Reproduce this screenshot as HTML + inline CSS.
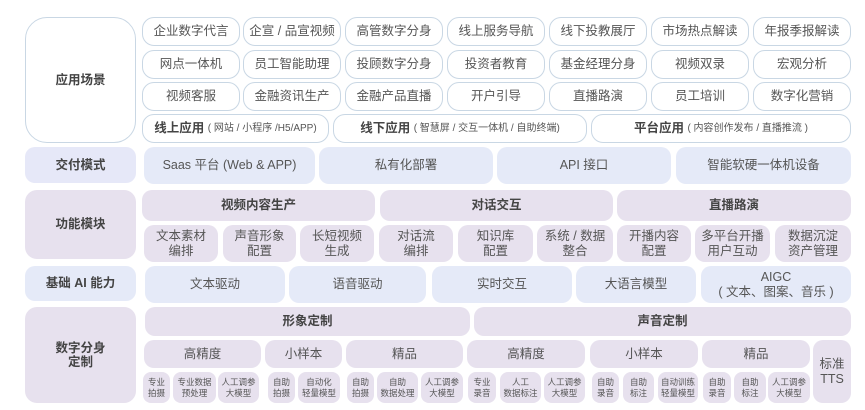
<!DOCTYPE html>
<html><head><meta charset="utf-8"><style>
body{margin:0;width:865px;height:410px;background:#fff;position:relative;overflow:hidden;font-family:"Liberation Sans","Noto Sans CJK SC",sans-serif;color:#555}
.b{position:absolute;box-sizing:border-box;display:flex;align-items:center;justify-content:center;text-align:center;line-height:1.15}
.w{background:#fff;border:1px solid #c9d7e4;border-radius:12px;font-size:12.5px}
.p{background:#e7e1ee}
.l{background:#e5eaf8}
.h{font-weight:bold;color:#444;font-size:12.5px}
.s{font-size:8.5px;line-height:1.25;border-radius:8px}
.m{font-size:12.5px;border-radius:10px}
small{font-weight:normal;font-size:10px;color:#555}
</style></head><body>
<div class="b w h" style="left:25px;top:17px;width:111px;height:126px;border-radius:22px">应用场景</div>
<div class="b p h" style="left:25px;top:147px;width:111px;height:36px;border-radius:10px;background:#e6e8f8">交付模式</div>
<div class="b p h" style="left:25px;top:190px;width:111px;height:69px;border-radius:12px">功能模块</div>
<div class="b l h" style="left:25px;top:266px;width:111px;height:35px;border-radius:10px">基础 AI 能力</div>
<div class="b p h" style="left:25px;top:307px;width:111px;height:96px;border-radius:12px">数字分身<br>定制</div>

<div class="b w" style="left:142px;top:17px;width:98px;height:29px">企业数字代言</div>
<div class="b w" style="left:243px;top:17px;width:98px;height:29px">企宣 / 品宣视频</div>
<div class="b w" style="left:345px;top:17px;width:98px;height:29px">高管数字分身</div>
<div class="b w" style="left:447px;top:17px;width:98px;height:29px">线上服务导航</div>
<div class="b w" style="left:549px;top:17px;width:98px;height:29px">线下投教展厅</div>
<div class="b w" style="left:651px;top:17px;width:98px;height:29px">市场热点解读</div>
<div class="b w" style="left:753px;top:17px;width:98px;height:29px">年报季报解读</div>

<div class="b w" style="left:142px;top:50px;width:98px;height:29px">网点一体机</div>
<div class="b w" style="left:243px;top:50px;width:98px;height:29px">员工智能助理</div>
<div class="b w" style="left:345px;top:50px;width:98px;height:29px">投顾数字分身</div>
<div class="b w" style="left:447px;top:50px;width:98px;height:29px">投资者教育</div>
<div class="b w" style="left:549px;top:50px;width:98px;height:29px">基金经理分身</div>
<div class="b w" style="left:651px;top:50px;width:98px;height:29px">视频双录</div>
<div class="b w" style="left:753px;top:50px;width:98px;height:29px">宏观分析</div>

<div class="b w" style="left:142px;top:82px;width:98px;height:29px">视频客服</div>
<div class="b w" style="left:243px;top:82px;width:98px;height:29px">金融资讯生产</div>
<div class="b w" style="left:345px;top:82px;width:98px;height:29px">金融产品直播</div>
<div class="b w" style="left:447px;top:82px;width:98px;height:29px">开户引导</div>
<div class="b w" style="left:549px;top:82px;width:98px;height:29px">直播路演</div>
<div class="b w" style="left:651px;top:82px;width:98px;height:29px">员工培训</div>
<div class="b w" style="left:753px;top:82px;width:98px;height:29px">数字化营销</div>

<div class="b w h" style="left:142px;top:114px;width:187px;height:29px">线上应用&nbsp;<small>( 网站 / 小程序 /H5/APP)</small></div>
<div class="b w h" style="left:333px;top:114px;width:254px;height:29px">线下应用&nbsp;<small>( 智慧屏 / 交互一体机 / 自助终端)</small></div>
<div class="b w h" style="left:591px;top:114px;width:260px;height:29px">平台应用&nbsp;<small>( 内容创作发布 / 直播推流 )</small></div>

<div class="b l m" style="left:144px;top:147px;width:171px;height:37px">Saas 平台 (Web &amp; APP)</div>
<div class="b l m" style="left:319px;top:147px;width:174px;height:37px">私有化部署</div>
<div class="b l m" style="left:497px;top:147px;width:174px;height:37px">API 接口</div>
<div class="b l m" style="left:676px;top:147px;width:175px;height:37px">智能软硬一体机设备</div>

<div class="b p h m" style="left:142px;top:190px;width:233px;height:31px">视频内容生产</div>
<div class="b p h m" style="left:380px;top:190px;width:233px;height:31px">对话交互</div>
<div class="b p h m" style="left:617px;top:190px;width:234px;height:31px">直播路演</div>

<div class="b p m" style="left:144px;top:225px;width:74px;height:37px">文本素材<br>编排</div>
<div class="b p m" style="left:223px;top:225px;width:73px;height:37px">声音形象<br>配置</div>
<div class="b p m" style="left:300px;top:225px;width:74px;height:37px">长短视频<br>生成</div>
<div class="b p m" style="left:379px;top:225px;width:74px;height:37px">对话流<br>编排</div>
<div class="b p m" style="left:458px;top:225px;width:75px;height:37px">知识库<br>配置</div>
<div class="b p m" style="left:537px;top:225px;width:76px;height:37px">系统 / 数据<br>整合</div>
<div class="b p m" style="left:617px;top:225px;width:74px;height:37px">开播内容<br>配置</div>
<div class="b p m" style="left:695px;top:225px;width:75px;height:37px">多平台开播<br>用户互动</div>
<div class="b p m" style="left:775px;top:225px;width:76px;height:37px">数据沉淀<br>资产管理</div>

<div class="b l m" style="left:145px;top:266px;width:140px;height:37px">文本驱动</div>
<div class="b l m" style="left:289px;top:266px;width:137px;height:37px">语音驱动</div>
<div class="b l m" style="left:432px;top:266px;width:140px;height:37px">实时交互</div>
<div class="b l m" style="left:576px;top:266px;width:120px;height:37px">大语言模型</div>
<div class="b l m" style="left:701px;top:266px;width:150px;height:37px">AIGC<br>( 文本、图案、音乐 )</div>

<div class="b p h m" style="left:145px;top:307px;width:325px;height:29px">形象定制</div>
<div class="b p h m" style="left:474px;top:307px;width:377px;height:29px">声音定制</div>

<div class="b p m" style="left:144px;top:340px;width:117px;height:28px">高精度</div>
<div class="b p m" style="left:265px;top:340px;width:77px;height:28px">小样本</div>
<div class="b p m" style="left:346px;top:340px;width:117px;height:28px">精品</div>
<div class="b p m" style="left:467px;top:340px;width:118px;height:28px">高精度</div>
<div class="b p m" style="left:590px;top:340px;width:108px;height:28px">小样本</div>
<div class="b p m" style="left:702px;top:340px;width:108px;height:28px">精品</div>
<div class="b p m" style="left:813px;top:340px;width:38px;height:63px">标准<br>TTS</div>

<div class="b p s" style="left:143px;top:372px;width:27px;height:31px">专业<br>拍摄</div>
<div class="b p s" style="left:173px;top:372px;width:43px;height:31px">专业数据<br>预处理</div>
<div class="b p s" style="left:218px;top:372px;width:41px;height:31px">人工调参<br>大模型</div>
<div class="b p s" style="left:268px;top:372px;width:27px;height:31px">自助<br>拍摄</div>
<div class="b p s" style="left:298px;top:372px;width:42px;height:31px">自动化<br>轻量模型</div>
<div class="b p s" style="left:347px;top:372px;width:27px;height:31px">自助<br>拍摄</div>
<div class="b p s" style="left:377px;top:372px;width:41px;height:31px">自助<br>数据处理</div>
<div class="b p s" style="left:421px;top:372px;width:42px;height:31px">人工调参<br>大模型</div>
<div class="b p s" style="left:468px;top:372px;width:28px;height:31px">专业<br>录音</div>
<div class="b p s" style="left:500px;top:372px;width:41px;height:31px">人工<br>数据标注</div>
<div class="b p s" style="left:544px;top:372px;width:41px;height:31px">人工调参<br>大模型</div>
<div class="b p s" style="left:592px;top:372px;width:27px;height:31px">自助<br>录音</div>
<div class="b p s" style="left:623px;top:372px;width:31px;height:31px">自助<br>标注</div>
<div class="b p s" style="left:658px;top:372px;width:40px;height:31px">自动训练<br>轻量模型</div>
<div class="b p s" style="left:703px;top:372px;width:28px;height:31px">自助<br>录音</div>
<div class="b p s" style="left:734px;top:372px;width:32px;height:31px">自助<br>标注</div>
<div class="b p s" style="left:768px;top:372px;width:42px;height:31px">人工调参<br>大模型</div>
</body></html>
